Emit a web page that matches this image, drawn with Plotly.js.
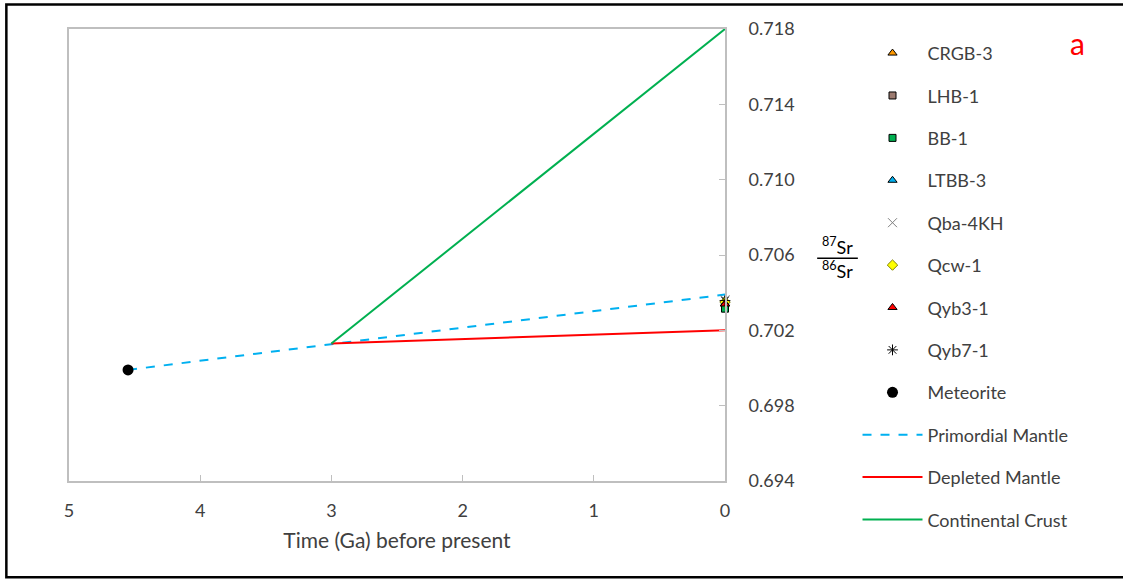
<!DOCTYPE html>
<html>
<head>
<meta charset="utf-8">
<script src="https://cdn.plot.ly/plotly-3.0.1.min.js"></script>
<style>
  html, body { margin: 0; padding: 0; background: #fff; }
  #chart { width: 1123px; height: 580px; }
</style>
</head>
<body>
<div id="chart"></div>
<script>
// Sample 87Sr/86Sr ratios (present day, age 0 Ga)
const sampleNames  = ["CRGB-3", "LHB-1", "BB-1", "LTBB-3", "Qba-4KH", "Qcw-1", "Qyb3-1", "Qyb7-1"];
const sampleAges   = [0, 0, 0, 0, 0, 0, 0, 0];
const sampleRatios = [0.70340, 0.70330, 0.70315, 0.70360, 0.70362, 0.70350, 0.70340, 0.70358];

// Meteorite (BABI) starting point
const meteoriteAge   = [4.55];
const meteoriteRatio = [0.6999];

// Evolution curves
const primordialAge   = [4.55, 0];
const primordialRatio = [0.6999, 0.7039];
const depletedAge     = [3, 0];
const depletedRatio   = [0.7013, 0.7020];
const crustAge        = [3, 0];
const crustRatio      = [0.7013, 0.7180];

const xTickVals = [5, 4, 3, 2, 1, 0];
const yTickVals = [0.694, 0.698, 0.702, 0.706, 0.710, 0.714, 0.718];

const FONT = "Lato, 'Open Sans', sans-serif";

const sampleStyles = [
  {symbol: "triangle-up", color: "#ff9900", line: {color: "#000", width: 1}, size: 8},
  {symbol: "square",      color: "#9c7b70", line: {color: "#000", width: 1}, size: 7},
  {symbol: "square",      color: "#00b050", line: {color: "#000", width: 1}, size: 7},
  {symbol: "triangle-up", color: "#00b0f0", line: {color: "#000", width: 1}, size: 8},
  {symbol: "x-thin",      color: "#7f7f7f", line: {color: "#7f7f7f", width: 1}, size: 9},
  {symbol: "diamond",     color: "#ffff00", line: {color: "#7f7f00", width: 1}, size: 8},
  {symbol: "triangle-up", color: "#ff0000", line: {color: "#000", width: 1}, size: 8},
  {symbol: "asterisk-open", color: "#000", line: {color: "#000", width: 1}, size: 9}
];

const traces = [];

// Lines first so markers sit on top
traces.push({
  x: primordialAge, y: primordialRatio, mode: "lines", name: "Primordial Mantle",
  line: {color: "#00b0f0", width: 2, dash: "dash"}, legendrank: 10, legendgroup: "g10"
});
traces.push({
  x: depletedAge, y: depletedRatio, mode: "lines", name: "Depleted Mantle",
  line: {color: "#ff0000", width: 2}, legendrank: 11, legendgroup: "g11"
});
traces.push({
  x: crustAge, y: crustRatio, mode: "lines", name: "Continental Crust",
  line: {color: "#00b050", width: 2}, legendrank: 12, legendgroup: "g12"
});

sampleNames.forEach((n, i) => {
  const s = sampleStyles[i];
  traces.push({
    x: [sampleAges[i]], y: [sampleRatios[i]], mode: "markers", name: n,
    marker: {symbol: s.symbol, color: s.color, size: s.size, line: s.line},
    legendrank: i + 1, legendgroup: "g" + (i + 1), cliponaxis: false
  });
});

traces.push({
  x: meteoriteAge, y: meteoriteRatio, mode: "markers", name: "Meteorite",
  marker: {symbol: "circle", color: "#000", size: 11},
  legendrank: 9, legendgroup: "g9"
});

const tickFont = {family: FONT, size: 18, color: "#404040"};

const layout = {
  width: 1123, height: 580,
  margin: {l: 69, r: 398, t: 29, b: 99, autoexpand: false},
  paper_bgcolor: "#fff", plot_bgcolor: "#fff",
  font: tickFont,
  showlegend: true,
  legend: {
    x: 1.202, xanchor: "left", y: 0.987, yanchor: "top",
    font: {family: FONT, size: 18, color: "#404040"},
    tracegroupgap: 16, itemwidth: 60, maxheight: 560, bgcolor: "rgba(0,0,0,0)"
  },
  xaxis: {
    range: [5, 0], tickvals: xTickVals, ticktext: xTickVals.map(String),
    showline: true, mirror: true, linecolor: "#bfbfbf", linewidth: 2,
    ticks: "inside", ticklen: 6, tickcolor: "#bfbfbf", tickwidth: 1,
    showgrid: false, zeroline: false, tickfont: tickFont, ticklabelstandoff: 12,
    automargin: false,
    title: {text: "Time (Ga) before present", font: {family: FONT, size: 21, color: "#404040"}, standoff: 14}
  },
  yaxis: {
    range: [0.694, 0.718], side: "right", tickvals: yTickVals,
    ticktext: yTickVals.map(v => v.toFixed(3)),
    showline: true, mirror: true, linecolor: "#bfbfbf", linewidth: 2,
    ticks: "inside", ticklen: 6, tickcolor: "#bfbfbf", tickwidth: 1,
    showgrid: false, zeroline: false, tickfont: tickFont, ticklabelstandoff: 18,
    automargin: false
  },
  shapes: [
    // figure frame
    {type: "rect", xref: "paper", yref: "paper", x0: -0.0955, x1: 1.75, y0: -0.213, y1: 1.054,
     line: {color: "#000", width: 2.5}, fillcolor: "rgba(0,0,0,0)"},
    // fraction bar of the ratio label
    {type: "line", xref: "paper", yref: "paper", x0: 1.1405, x1: 1.2025, y0: 0.493, y1: 0.493,
     line: {color: "#000", width: 1.5}}
  ],
  annotations: [
    {xref: "paper", yref: "paper", x: 1.172, y: 0.488, xanchor: "center", yanchor: "bottom",
     text: "<sup>87</sup>Sr", showarrow: false, font: {family: FONT, size: 18, color: "#000"}},
    {xref: "paper", yref: "paper", x: 1.172, y: 0.498, xanchor: "center", yanchor: "top",
     text: "<sup>86</sup>Sr", showarrow: false, font: {family: FONT, size: 18, color: "#000"}},
    {xref: "paper", yref: "paper", x: 1.537, y: 0.968, xanchor: "center", yanchor: "middle",
     text: "a", showarrow: false, font: {family: FONT, size: 30, color: "#ff0000"}}
  ]
};

Plotly.newPlot("chart", traces, layout, {displayModeBar: false, staticPlot: true});
</script>
</body>
</html>
